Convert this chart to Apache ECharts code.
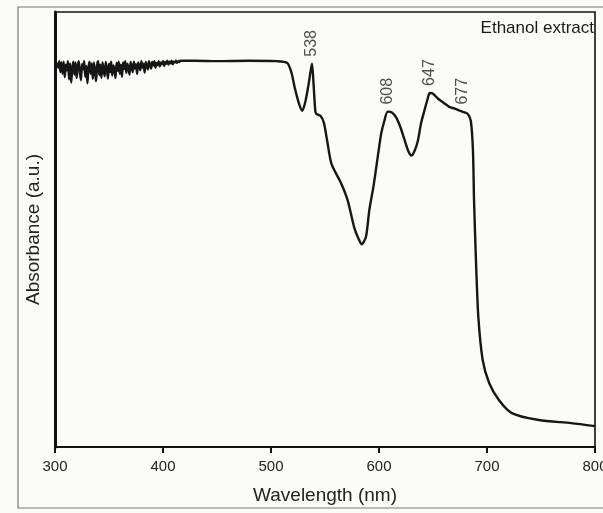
<!DOCTYPE html>
<html>
<head>
<meta charset="utf-8">
<script src="https://cdn.jsdelivr.net/npm/echarts@6/dist/echarts.min.js"></script>
<style>
  html, body { margin: 0; padding: 0; background: #fbfbf9; }
  #chart { width: 603px; height: 513px; }
</style>
</head>
<body>
<div id="chart"></div>
<script>
// UV-Vis spectrum of the ethanol extract
const noiseWavelengths = [
  302,303,304,305,306,307,308,309,310,311,312,313,314,315,316,317,318,319,320,321,
  322,323,324,325,326,327,328,329,330,331,332,333,334,335,336,337,338,339,340,341,
  342,343,344,345,346,347,348,349,350,351,352,353,354,355,356,357,358,359,360,361,
  362,363,364,365,366,367,368,369,370,371,372,373,374,375,376,377,378,379,380,381,
  382,383,384,385,386,387,388,389,390,391,392,393,394,395,396,397,398,399,400,401,
  402,403,404,405,406,407,408,409,410,411,412,413,414,415,416
];
const noiseAbsorbance = [
  0.884,0.872,0.887,0.862,0.884,0.858,0.886,0.850,0.879,0.866,0.887,0.845,0.882,0.838,0.870,0.886,0.856,0.884,0.848,0.875,
  0.887,0.862,0.843,0.880,0.868,0.887,0.851,0.876,0.836,0.872,0.886,0.858,0.882,0.846,0.884,0.864,0.841,0.878,0.887,0.855,
  0.879,0.849,0.884,0.866,0.852,0.885,0.871,0.847,0.881,0.862,0.886,0.854,0.877,0.868,0.848,0.883,0.865,0.886,0.858,0.879,
  0.851,0.884,0.869,0.887,0.860,0.881,0.872,0.856,0.885,0.874,0.862,0.886,0.870,0.880,0.858,0.884,0.876,0.866,0.887,0.872,
  0.881,0.861,0.885,0.876,0.868,0.887,0.879,0.870,0.885,0.877,0.887,0.872,0.883,0.878,0.887,0.875,0.884,0.880,0.887,0.876,
  0.885,0.881,0.888,0.879,0.886,0.882,0.888,0.880,0.886,0.884,0.888,0.883,0.887,0.885,0.888
];
const bandWavelengths = [
  430,450,480,505,515,519,522,526,529,532,535,537,538,539.5,541,542,546,549,552,556,
  565,571,577,581,584,588,591,595,599,602,605,608,612,616,620,623,627,630,633,636,
  639,642,645,647,650,655,660,665,670,675,677,682,685,687,688,690,692,696,702,711,
  723,748,778,800
];
const bandAbsorbance = [
  0.888,0.887,0.888,0.887,0.883,0.860,0.826,0.789,0.773,0.796,0.837,0.869,0.881,0.830,0.773,0.766,0.761,0.745,0.704,0.651,
  0.606,0.567,0.505,0.479,0.466,0.484,0.544,0.601,0.670,0.720,0.750,0.771,0.769,0.757,0.734,0.711,0.681,0.670,0.681,0.704,
  0.745,0.773,0.800,0.814,0.812,0.800,0.791,0.782,0.778,0.773,0.771,0.766,0.750,0.681,0.567,0.413,0.298,0.200,0.147,0.108,
  0.078,0.062,0.055,0.048
];
const peakWavelengths = [538, 608, 647, 677];
const xTicks = [300, 400, 500, 600, 700, 800];

const wavelengths = noiseWavelengths.concat(bandWavelengths);
const absorbance = noiseAbsorbance.concat(bandAbsorbance);
const spectrum = wavelengths.map((w, i) => [w, absorbance[i]]);
const peaks = peakWavelengths.map(w => [w, absorbance[wavelengths.indexOf(w)]]);

const font = '"Liberation Sans", Arial, sans-serif';
const chart = echarts.init(document.getElementById('chart'));
chart.setOption({
  animation: false,
  backgroundColor: '#fbfbf9',
  grid: {
    left: 55, right: 8, top: 12, bottom: 66,
    containLabel: false, outerBoundsMode: 'none',
    show: true, borderColor: '#111', borderWidth: 1.6
  },
  xAxis: {
    type: 'value', min: xTicks[0], max: xTicks[xTicks.length - 1], interval: 100,
    axisLine: { show: true, lineStyle: { color: '#111', width: 2 } },
    axisTick: { show: true, inside: false, length: 6, lineStyle: { color: '#111', width: 2 } },
    axisLabel: { color: '#222', fontFamily: font, fontSize: 15, margin: 12 },
    splitLine: { show: false },
    name: 'Wavelength (nm)', nameLocation: 'middle', nameGap: 39,
    nameTextStyle: { color: '#222', fontFamily: font, fontSize: 19 }
  },
  yAxis: {
    type: 'value', min: 0, max: 1,
    axisLine: { show: true, lineStyle: { color: '#111', width: 3 } },
    axisTick: { show: false }, axisLabel: { show: false }, splitLine: { show: false },
    name: 'Absorbance (a.u.)', nameLocation: 'middle', nameGap: 12,
    nameTextStyle: { color: '#222', fontFamily: font, fontSize: 19 }
  },
  series: [
    {
      type: 'line', data: spectrum, showSymbol: false, smooth: 0.25,
      lineStyle: { color: '#161616', width: 2.4 }
    },
    {
      type: 'scatter', data: peaks, symbolSize: 0, silent: true,
      label: {
        show: true, position: 'top', distance: 7, rotate: 90,
        align: 'left', verticalAlign: 'middle',
        formatter: p => String(p.value[0]),
        color: '#222', fontFamily: font, fontSize: 16
      }
    }
  ],
  graphic: [
    { type: 'rect', shape: { x: 18, y: 7, width: 600, height: 501 }, style: { fill: 'none', stroke: '#777', lineWidth: 1.2 }, z: -1 },
    { type: 'text', right: 9, top: 20, style: { text: 'Ethanol extract', fill: '#1a1a1a', font: '17px ' + font } }
  ]
});
</script>
</body>
</html>
